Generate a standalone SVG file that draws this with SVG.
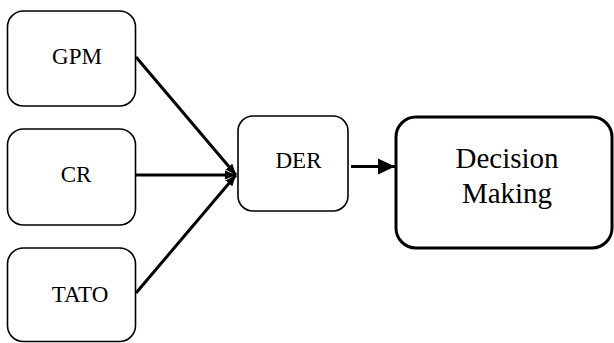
<svg xmlns="http://www.w3.org/2000/svg" width="614" height="343" viewBox="0 0 614 343">
<style>
.box{fill:#fff;stroke:#000;stroke-width:1.6}
.big{fill:#fff;stroke:#000;stroke-width:3}
.lbl{font-family:"Liberation Serif","Times New Roman",serif;font-size:23px;fill:#000;text-anchor:middle}
.lbl2{font-family:"Liberation Serif","Times New Roman",serif;font-size:29px;fill:#000;text-anchor:middle}
.con{stroke:#000;stroke-width:3;fill:none}
</style>
<defs>
<marker id="ah" markerUnits="userSpaceOnUse" markerWidth="12" markerHeight="12" viewBox="0 0 12 12" refX="11" refY="6" orient="auto">
<path d="M0,1.5 L11,6 L0,10.5 Z" fill="#000"/>
</marker>
<marker id="ah2" markerUnits="userSpaceOnUse" markerWidth="18" markerHeight="18" viewBox="0 0 18 18" refX="17" refY="9" orient="auto">
<path d="M0,1 L17,9 L0,17 Z" fill="#000"/>
</marker>
</defs>
<g id="connectors">
<line class="con" x1="136" y1="57" x2="236" y2="175" marker-end="url(#ah)"/>
<line class="con" x1="136" y1="175" x2="236" y2="175" marker-end="url(#ah)"/>
<line class="con" x1="136" y1="293" x2="236" y2="175" marker-end="url(#ah)"/>
<line class="con" x1="351" y1="166.5" x2="395" y2="166.5" marker-end="url(#ah2)"/>
</g>
<g id="gpm">
<rect class="box" x="7.5" y="11" width="128" height="95" rx="16"/>
<text class="lbl" x="77" y="64">GPM</text>
</g>
<g id="cr">
<rect class="box" x="7.5" y="129" width="128" height="96" rx="16"/>
<text class="lbl" x="76" y="182">CR</text>
</g>
<g id="tato">
<rect class="box" x="7.5" y="248" width="128" height="93.5" rx="16"/>
<text class="lbl" x="80" y="301.5">TATO</text>
</g>
<g id="der">
<rect class="box" x="238" y="116" width="110" height="95" rx="15"/>
<text class="lbl" x="298.5" y="168">DER</text>
</g>
<g id="dm">
<rect class="big" x="396" y="117" width="216" height="131" rx="20"/>
<text class="lbl2" x="507" y="168">Decision</text>
<text class="lbl2" x="507" y="203">Making</text>
</g>
</svg>
